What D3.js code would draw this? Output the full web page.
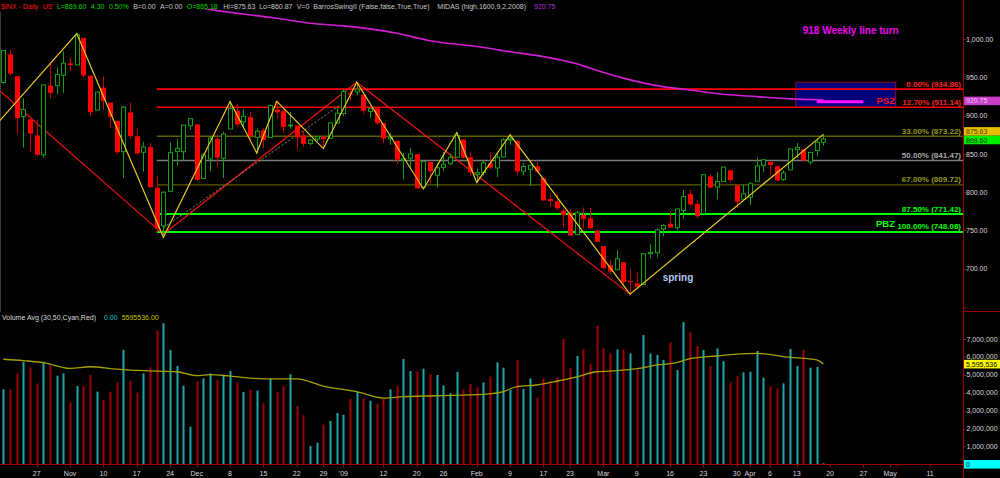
<!DOCTYPE html>
<html><head><meta charset="utf-8">
<script src="https://cdn.jsdelivr.net/npm/d3@7/dist/d3.min.js"></script>
<style>
html,body{margin:0;padding:0;background:#000;overflow:hidden}
svg{display:block}
text{font-family:"Liberation Sans",Arial,Helvetica,sans-serif}
</style></head>
<body><svg id="chart" width="1000" height="478"></svg>
<script>
// ---------------- DATA ----------------
const dates = [
"2008-10-20","2008-10-21","2008-10-22","2008-10-23","2008-10-24",
"2008-10-27","2008-10-28","2008-10-29","2008-10-30","2008-10-31",
"2008-11-03","2008-11-04","2008-11-05","2008-11-06","2008-11-07",
"2008-11-10","2008-11-11","2008-11-12","2008-11-13","2008-11-14",
"2008-11-17","2008-11-18","2008-11-19","2008-11-20","2008-11-21",
"2008-11-24","2008-11-25","2008-11-26","2008-11-28",
"2008-12-01","2008-12-02","2008-12-03","2008-12-04","2008-12-05",
"2008-12-08","2008-12-09","2008-12-10","2008-12-11","2008-12-12",
"2008-12-15","2008-12-16","2008-12-17","2008-12-18","2008-12-19",
"2008-12-22","2008-12-23","2008-12-24","2008-12-26",
"2008-12-29","2008-12-30","2008-12-31","2009-01-02",
"2009-01-05","2009-01-06","2009-01-07","2009-01-08","2009-01-09",
"2009-01-12","2009-01-13","2009-01-14","2009-01-15","2009-01-16",
"2009-01-20","2009-01-21","2009-01-22","2009-01-23",
"2009-01-26","2009-01-27","2009-01-28","2009-01-29","2009-01-30",
"2009-02-02","2009-02-03","2009-02-04","2009-02-05","2009-02-06",
"2009-02-09","2009-02-10","2009-02-11","2009-02-12","2009-02-13",
"2009-02-17","2009-02-18","2009-02-19","2009-02-20",
"2009-02-23","2009-02-24","2009-02-25","2009-02-26","2009-02-27",
"2009-03-02","2009-03-03","2009-03-04","2009-03-05","2009-03-06",
"2009-03-09","2009-03-10","2009-03-11","2009-03-12","2009-03-13",
"2009-03-16","2009-03-17","2009-03-18","2009-03-19","2009-03-20",
"2009-03-23","2009-03-24","2009-03-25","2009-03-26","2009-03-27",
"2009-03-30","2009-03-31","2009-04-01","2009-04-02","2009-04-03",
"2009-04-06","2009-04-07","2009-04-08","2009-04-09",
"2009-04-13","2009-04-14","2009-04-15","2009-04-16","2009-04-17"];

const opens = [943.51,980.40,951.67,899.08,895.22, 874.28,848.92,939.51,939.38,953.11,
968.67,966.34,1001.84,952.40,907.44, 936.75,917.15,893.39,853.13,904.36,
873.23,852.34,859.03,805.87,755.84, 801.20,853.40,852.90,886.89,
888.61,817.94,843.60,869.75,844.43, 882.71,906.48,892.17,898.35,871.79,
881.07,871.53,908.16,905.98,886.96, 887.20,874.31,863.87,869.51,
872.37,870.58,890.59,902.99, 929.17,931.17,927.45,905.73,909.91,
890.40,869.79,867.28,841.99,844.45, 849.64,806.77,839.74,822.16,
832.50,837.30,845.73,868.89,845.69, 823.09,825.69,837.77,831.75,846.09,
868.24,866.87,827.41,829.91,833.95, 818.61,791.06,787.91,775.87,
773.25,744.69,770.64,765.76,749.93, 729.57,704.44,698.60,708.27,684.04,
680.76,679.28,719.59,720.89,751.97, 758.84,753.88,776.01,797.92,784.58,
772.31,820.60,806.81,814.06,828.68, 809.07,790.88,793.59,814.53,835.13,
839.75,834.12,816.76,829.29, 855.72,856.24,839.44,854.54,865.18];

const highs = [985.40,985.44,951.67,922.83,896.14, 893.78,940.51,969.97,963.23,984.38,
975.57,1007.51,1001.84,952.40,931.46, 951.95,917.15,893.39,913.01,916.88,
882.29,865.90,864.57,820.52,801.20, 865.60,868.94,887.68,896.25,
888.61,850.54,873.12,875.60,879.42, 918.57,916.26,908.27,904.63,883.24,
884.63,914.66,918.85,911.02,905.47, 887.37,880.44,869.79,873.74,
873.70,891.12,910.32,934.73, 936.63,943.85,927.45,910.00,911.93,
890.40,877.02,867.28,851.59,858.13, 849.64,841.72,839.74,838.22,
852.53,850.45,877.86,868.89,851.66, 830.78,842.60,851.85,850.55,870.75,
875.01,868.05,838.22,835.48,839.43, 818.61,796.17,797.58,778.69,
777.85,775.49,780.12,779.42,751.27, 729.57,711.67,724.12,708.27,699.09,
695.27,719.60,731.92,752.63,758.29, 774.53,778.12,803.04,803.24,788.91,
823.37,823.65,826.78,832.98,828.68, 809.07,810.48,813.62,845.61,842.50,
839.75,834.12,828.42,856.91, 864.31,856.24,852.93,870.35,875.63];

const lows = [941.71,952.47,875.81,858.44,852.85, 846.75,845.27,922.26,928.50,930.23,
958.82,966.34,949.86,899.73,906.90, 907.47,884.90,850.48,818.69,869.88,
848.98,826.84,806.18,747.78,741.02, 801.20,834.99,841.37,881.21,
815.69,817.94,827.60,833.60,818.41, 882.71,885.38,885.45,868.73,851.35,
857.72,871.53,895.94,877.44,883.02, 857.09,860.10,861.44,866.52,
857.07,870.58,889.67,899.35, 919.53,927.28,902.37,896.81,888.31,
864.32,862.02,836.93,817.04,830.66, 804.47,804.30,811.29,806.07,
827.69,835.40,845.73,844.15,821.67, 812.87,821.98,829.18,819.91,845.42,
861.65,822.99,822.30,808.06,825.21, 789.17,780.43,777.03,754.25,
742.37,744.69,752.89,751.75,734.52, 699.70,692.30,698.60,677.93,666.79,
672.88,679.28,713.85,714.76,742.46, 753.37,749.93,765.64,781.82,766.20,
772.31,805.48,791.37,814.06,813.43, 779.81,790.88,783.32,814.53,826.70,
822.79,814.53,814.84,829.29, 845.35,840.57,835.58,847.04,860.87];

const closes = [985.40,955.05,896.78,908.11,876.77, 848.92,940.51,930.09,954.09,968.75,
966.30,1005.75,952.77,904.88,930.99, 919.21,898.95,852.30,911.29,873.29,
850.75,859.12,806.58,752.44,800.03, 851.81,857.39,887.68,896.24,
816.21,848.81,870.74,845.22,876.07, 909.70,888.67,899.24,873.59,879.73,
868.57,913.18,904.42,885.28,887.88, 871.63,863.16,868.15,872.80,
869.42,890.64,903.25,931.80, 927.45,934.70,906.65,909.73,890.35,
870.26,871.79,842.62,843.74,850.12, 805.22,840.24,827.50,831.95,
836.57,845.71,874.09,845.14,825.88, 825.44,838.51,832.23,845.85,868.60,
869.89,827.16,833.74,835.19,826.84, 789.17,788.42,778.94,770.05,
743.33,773.14,764.90,752.83,735.09, 700.82,696.33,712.87,682.55,683.38,
676.53,719.60,721.36,750.74,756.55, 753.89,778.12,794.35,784.04,768.54,
822.92,806.12,813.88,832.86,815.94, 787.53,797.87,811.08,834.38,842.50,
835.48,815.55,825.16,856.56, 858.73,841.50,852.06,865.30,869.60];

// volume, millions
const volumes = [4.19,4.19,5.08,5.73,5.42, 4.52,5.73,5.51,4.95,5.08,
3.46,4.37,4.37,4.99,4.06, 3.59,4.06,4.58,6.39,4.67,
4.00,5.08,5.42,7.50,7.88, 6.39,5.49,4.39,2.10,
4.62,4.80,5.08,4.71,4.99, 5.21,4.58,4.04,4.15,4.12,
3.41,4.80,4.04,4.37,5.03, 3.26,2.74,1.02,1.21,
2.21,2.42,2.87,2.77, 3.65,4.04,3.69,3.55,3.37,
3.65,4.19,4.39,5.88,5.21, 5.19,5.34,5.03,4.99,
4.41,3.97,5.17,4.19,4.49, 4.30,4.58,4.89,5.69,5.40,
4.15,5.83,4.21,4.80,3.72, 4.80,4.65,4.86,7.00,
5.40,6.05,6.44,5.59,7.73, 6.48,6.20,6.42,6.39,6.20,
5.27,7.22,6.20,6.11,5.83, 6.82,5.27,7.97,7.37,6.61,
6.39,5.49,6.48,5.77,4.56, 4.93,5.14,5.17,6.33,4.84,
4.37,4.24,4.52,6.44, 5.49,6.39,5.40,5.44,0];

// volume moving average (millions), read at sampled days
const volAvgDates = ["2008-10-20","2008-10-23","2008-10-28","2008-11-03","2008-11-06","2008-11-12","2008-11-18","2008-11-25","2008-12-01","2008-12-03","2008-12-08","2008-12-15","2008-12-22","2008-12-29","2009-01-06","2009-01-12","2009-01-15","2009-01-23","2009-02-03","2009-02-06","2009-02-10","2009-02-13","2009-02-19","2009-02-24","2009-02-27","2009-03-04","2009-03-09","2009-03-12","2009-03-17","2009-03-19","2009-03-25","2009-03-30","2009-04-02","2009-04-09","2009-04-16","2009-04-17"];
const volAvgValues = [5.87,5.79,5.68,5.36,5.45,5.32,5.23,5.17,4.95,5.01,4.93,4.77,4.77,4.37,4.06,3.70,3.78,3.83,3.91,4.06,4.34,4.43,4.64,4.89,5.17,5.23,5.34,5.55,5.68,5.90,6.05,6.16,6.20,5.97,5.83,5.60];

// MIDAS curve samples
const midasDates = ["2008-12-01","2008-12-03","2008-12-17","2008-12-24","2009-01-02","2009-01-09","2009-01-14","2009-01-22","2009-02-02","2009-02-09","2009-02-17","2009-02-24","2009-02-26","2009-03-05","2009-03-12","2009-03-19","2009-03-26","2009-04-02","2009-04-09","2009-04-17"];
const midasValues = [1042,1039,1027.5,1021,1017.5,1012.3,1007.8,998.2,990.5,983.8,977.3,968,962.3,949.2,939.4,933.8,928.2,925,922.1,920.75];
const weeklyLineDates = ["2009-04-16","2009-04-27"];
const weeklyLineValue = 918.4;

// swing line (yellow)
const swingDates = ["2008-10-10","2008-11-04","2008-11-21","2008-12-08","2008-12-12","2008-12-17","2008-12-29","2009-01-06","2009-01-21","2009-01-28","2009-02-02","2009-02-09","2009-03-06","2009-04-17"];
const swingPrices = [839.80,1007.51,741.02,918.57,851.35,918.85,857.07,943.85,804.30,877.86,812.87,875.01,666.79,875.63];
// trend line (red)
const trendDates = ["2008-10-17","2008-11-21","2009-01-06","2009-03-06"];
const trendPrices = [936.0,745.0,943.85,666.79];
// dotted line
const dotDates = ["2008-11-21","2009-01-02"];
const dotPrices = [753.5,917.0];

// fib levels
const fibPct = ["0.00%","12.70%","33.00%","50.00%","67.00%","87.50%","100.00%"];
const fibValues = [934.86,911.14,873.22,841.47,809.72,771.42,748.08];
const fibStart = "2008-11-20";

// zones
const pszZone = {from:"2009-04-13", to:"2009-05-04", top:943.85, bottom:911.14};

// axes
const priceTicks = [1000,950,900,850,800,750,700];
const volTicks = [1,2,3,4,5,6,7];
const tickDates = ["2008-10-27","2008-11-03","2008-11-10","2008-11-17","2008-11-24","2008-12-01","2008-12-08","2008-12-15","2008-12-22","2008-12-29","2009-01-02","2009-01-12","2009-01-20","2009-01-26","2009-02-02","2009-02-09","2009-02-17","2009-02-23","2009-03-02","2009-03-09","2009-03-16","2009-03-23","2009-03-30","2009-04-01","2009-04-06","2009-04-13","2009-04-20","2009-04-27","2009-05-01","2009-05-11"];
const tickLabels = ["27","Nov","10","17","24","Dec","8","15","22","29","'09","12","20","26","Feb","9","17","23","Mar","9","16","23","30","Apr","6","13","20","27","May","11"];
const extraTickDates = ["2009-01-05","2009-05-04"];
const holidays = ["2008-11-27","2008-12-25","2009-01-01","2009-01-19","2009-02-16","2009-04-10"];

const headerText = ["$INX - Daily","US","L=869.60","4.30","0.50%","B=0.00","A=0.00","O=865.18","Hi=875.63","Lo=860.87","V=0","BarrosSwingII (False,false,True,True)","MIDAS (high,1600,9,2,2008)","920.75"];
const lastClose = 869.60, lastHigh = 875.63, midasLast = 920.75, volAvgLast = 5595536;

// ---------------- CHART ----------------
const W = 1000, H = 478, AX = 963.5;
const svg = d3.select("#chart");
svg.append("rect").attr("width",W).attr("height",H).attr("fill","#000");

// trading calendar
const calendar = [];
{ let d = new Date("2008-10-01T00:00:00Z"); const e = new Date("2009-05-29T00:00:00Z");
  while (d <= e) { const s = d.toISOString().slice(0,10), w = d.getUTCDay();
    if (w !== 0 && w !== 6 && !holidays.includes(s)) calendar.push(s);
    d.setUTCDate(d.getUTCDate()+1); } }
const base = calendar.indexOf(dates[0]);
const idx = s => calendar.indexOf(s) - base;
const x = d3.scaleLinear().domain([0, dates.length-1]).range([3.4, 823.4]);
const xd = s => x(idx(s));
const yP = d3.scaleLinear().domain([700,1000]).range([268.7,39.3]);
const yV = d3.scaleLinear().domain([0,7]).range([464.3,339]);

const defs = svg.append("defs");
defs.append("clipPath").attr("id","cp").append("rect").attr("x",0).attr("y",9).attr("width",AX).attr("height",303);
defs.append("clipPath").attr("id","cv").append("rect").attr("x",0).attr("y",322).attr("width",AX).attr("height",142.5);

// left edge line
svg.append("line").attr("x1",0.5).attr("x2",0.5).attr("y1",12).attr("y2",312).attr("stroke","#3a3a3a");

const gP = svg.append("g").attr("clip-path","url(#cp)");

// PSZ box
gP.append("rect")
  .attr("x", xd(pszZone.from)-1).attr("width", xd(pszZone.to)-xd(pszZone.from))
  .attr("y", yP(pszZone.top)).attr("height", yP(pszZone.bottom)-yP(pszZone.top))
  .attr("fill","#00007a").attr("stroke","#8a1020").attr("stroke-width",1);

// fib lines
const fibColor = ["#ff0000","#ff0000","#5e5e00","#7a7a7a","#5e5e00","#00ff00","#00ff00"];
const fibWidth = [1.6,1.6,1.3,1.3,1.3,2,2];
const fibText = ["#ff2020","#ff2020","#9a9a20","#a8a8a8","#9a9a20","#00ff00","#00ff00"];
gP.selectAll("line.fib").data(fibValues).join("line").attr("class","fib")
  .attr("x1", xd(fibStart)).attr("x2", AX)
  .attr("y1", d=>yP(d)).attr("y2", d=>yP(d))
  .attr("stroke", (d,i)=>fibColor[i]).attr("stroke-width",(d,i)=>fibWidth[i]);

// MIDAS
const line = d3.line().x(d=>xd(d[0])).y(d=>yP(d[1]));
gP.append("path").datum(midasDates.map((d,i)=>[d,midasValues[i]]))
  .attr("d", line.curve(d3.curveMonotoneX)).attr("fill","none").attr("stroke","#d21ed2").attr("stroke-width",1.6);
gP.append("line").attr("x1",xd(weeklyLineDates[0])).attr("x2",xd(weeklyLineDates[1]))
  .attr("y1",yP(weeklyLineValue)).attr("y2",yP(weeklyLineValue)).attr("stroke","#ff10ff").attr("stroke-width",3);

const lineL = d3.line().x(d=>xd(d[0])).y(d=>yP(d[1]));
// red trend
gP.append("path").datum(trendDates.map((d,i)=>[d,trendPrices[i]]))
  .attr("d", lineL).attr("fill","none").attr("stroke","#ff1010").attr("stroke-width",1.1);
// dotted
gP.append("path").datum(dotDates.map((d,i)=>[d,dotPrices[i]]))
  .attr("d", lineL).attr("fill","none").attr("stroke","#8a8a8a").attr("stroke-width",1).attr("stroke-dasharray","2,2");

// candles
const bars = dates.map((d,i)=>({d, o:opens[i], h:highs[i], l:lows[i], c:closes[i], v:volumes[i], pc: i>0?closes[i-1]:opens[i]}));
const UP = "#14a014", DN = "#ff0000";
const cg = gP.append("g").selectAll("g").data(bars).join("g")
  .attr("transform", b=>`translate(${Math.round(xd(b.d))+0.5},0)`);
cg.append("line").attr("y1",b=>yP(b.h)).attr("y2",b=>yP(b.l))
  .attr("stroke", b=> b.c>=b.o ? UP : "#c80000").attr("stroke-width",1);
cg.append("rect")
  .attr("x", b=> b.c>=b.o ? -2 : -2.5)
  .attr("width", b=> b.c>=b.o ? 4 : 5)
  .attr("y", b=> yP(Math.max(b.o,b.c)))
  .attr("height", b=> Math.max(1, yP(Math.min(b.o,b.c)) - yP(Math.max(b.o,b.c))))
  .attr("fill", b=> b.c>=b.o ? "#000" : DN)
  .attr("stroke", b=> b.c>=b.o ? UP : "none").attr("stroke-width",1);

// swing line
gP.append("path").datum(swingDates.map((d,i)=>[d,swingPrices[i]]))
  .attr("d", lineL).attr("fill","none").attr("stroke","#e8c81e").attr("stroke-width",1.2);

// fib labels
svg.selectAll("text.fibl").data(fibValues).join("text").attr("class","fibl")
  .attr("x", 961).attr("y", d=>yP(d)-2.5).attr("text-anchor","end")
  .attr("font-size",8).attr("font-weight","bold")
  .attr("fill",(d,i)=>fibText[i])
  .text((d,i)=>`${fibPct[i]} (${d3.format(".2f")(d)})`);

svg.append("text").attr("x",876.5).attr("y",yP(pszZone.bottom)-3.5).attr("font-size",9.5).attr("font-weight","bold").attr("fill","#ff1010").text("PSZ");
svg.append("text").attr("x",876).attr("y",yP(fibValues[6])-5).attr("font-size",9.5).attr("font-weight","bold").attr("fill","#00ff00").text("PBZ");
svg.append("text").attr("x",802.7).attr("y",33.5).attr("font-size",10).attr("font-weight","bold").attr("fill","#f000f0").text("918 Weekly line turn");
svg.append("text").attr("x",662.7).attr("y",280.5).attr("font-size",10).attr("font-weight","bold").attr("fill","#aec8f0").text("spring");

// header
const hdrColor = ["#ff1010","#ff1010","#00d800","#00d800","#00d800","#c8c8c8","#c8c8c8","#00d800","#c8c8c8","#c8c8c8","#c8c8c8","#c8c8c8","#c8c8c8","#b030d0"];
const hdrX = [1,42.7,56.9,90.8,108.9,133.2,160.1,186.8,223.3,259.2,296.7,313.3,437.3,534];
svg.selectAll("text.hdr").data(headerText).join("text").attr("class","hdr")
  .attr("x",(d,i)=>hdrX[i]).attr("y",8.6).attr("font-size",7).attr("fill",(d,i)=>hdrColor[i]).text(d=>d);

// ---- volume panel ----
const gV = svg.append("g").attr("clip-path","url(#cv)");
gV.selectAll("rect").data(bars).join("rect")
  .attr("x", b=>Math.round(xd(b.d))-0.5).attr("width",2)
  .attr("y", b=>Math.min(yV(b.v), 463.3)).attr("height", b=>Math.max(1, yV(0)-yV(b.v)))
  .attr("fill", b=> b.c >= b.pc ? "#1ea5aa" : "#a00000");
gV.append("path").datum(volAvgDates.map((d,i)=>[d,volAvgValues[i]]))
  .attr("d", d3.line().x(d=>xd(d[0])).y(d=>yV(d[1])).curve(d3.curveMonotoneX))
  .attr("fill","none").attr("stroke","#a8a000").attr("stroke-width",1.3);

svg.append("line").attr("x1",0).attr("x2",AX).attr("y1",464.5).attr("y2",464.5).attr("stroke","#9a0000");
const vh = [["Volume Avg (30,50,Cyan,Red)","#d8d8d8",2],["0.00","#10c8c8",104],["5595536.00","#c8c800",121.7]];
svg.selectAll("text.vh").data(vh).join("text").attr("class","vh")
  .attr("x",d=>d[2]).attr("y",319.5).attr("font-size",7).attr("fill",d=>d[1]).text(d=>d[0]);

// date axis
const allTicks = tickDates.concat(extraTickDates);
svg.selectAll("line.dt").data(allTicks).join("line").attr("class","dt")
  .attr("x1",d=>Math.round(xd(d))+0.5).attr("x2",d=>Math.round(xd(d))+0.5)
  .attr("y1",464.5).attr("y2",467.5).attr("stroke","#9a0000");
svg.selectAll("text.dl").data(tickDates).join("text").attr("class","dl")
  .attr("x",d=>xd(d)).attr("y",476).attr("text-anchor","middle")
  .attr("font-size",7).attr("fill","#d8d8d8").text((d,i)=>tickLabels[i]);

// right axis
svg.append("line").attr("x1",AX).attr("x2",AX).attr("y1",0).attr("y2",H).attr("stroke","#a00000");
svg.append("line").attr("x1",AX).attr("x2",W).attr("y1",311.5).attr("y2",311.5).attr("stroke","#a00000");
const fmtP = d3.format(",.2f"), fmtV = d3.format(",");
svg.selectAll("line.pt").data(priceTicks.concat([650])).join("line").attr("class","pt")
  .attr("x1",AX).attr("x2",AX+3).attr("y1",d=>Math.round(yP(d))+0.5).attr("y2",d=>Math.round(yP(d))+0.5).attr("stroke","#a00000");
svg.selectAll("text.pl").data(priceTicks).join("text").attr("class","pl")
  .attr("x",966).attr("y",d=>yP(d)+2.6).attr("font-size",7).attr("fill","#d8d8d8").text(d=>fmtP(d));
svg.selectAll("line.vt").data(volTicks).join("line").attr("class","vt")
  .attr("x1",AX).attr("x2",AX+3).attr("y1",d=>Math.round(yV(d))+0.5).attr("y2",d=>Math.round(yV(d))+0.5).attr("stroke","#a00000");
svg.selectAll("text.vl").data(volTicks).join("text").attr("class","vl")
  .attr("x",966.5).attr("y",d=>yV(d)+2.5).attr("font-size",7).attr("fill","#d8d8d8").text(d=>fmtV(d*1e6));

// value boxes
const BOXH = 8.6;
function box(yc, fill, txt, tcol){
  svg.append("rect").attr("x",AX+0.5).attr("y",yc-BOXH/2).attr("width",W-AX).attr("height",BOXH).attr("fill",fill);
  svg.append("text").attr("x",966).attr("y",yc+2.6).attr("font-size",7).attr("fill",tcol).text(txt);
}
const closeBoxY = yP(lastClose)+1;
box(yP(midasLast)+1, "#c83cc8", fmtP(midasLast), "#f0c8f0");
// last-high box stacked directly above the close box so the labels don't collide
box(Math.min(yP(lastHigh)+1, closeBoxY-BOXH), "#e6be00", fmtP(lastHigh), "#4a3c00");
box(closeBoxY, "#00f000", fmtP(lastClose), "#003000");
box(yV(volAvgLast/1e6), "#ffff00", fmtV(volAvgLast), "#000");
box(yV(0), "#00ffff", "0", "#000");
</script></body></html>
